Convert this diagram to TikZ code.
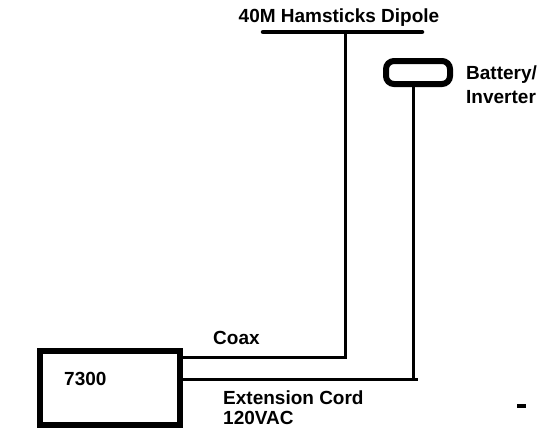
\documentclass[tikz,border=0pt]{standalone}
\usepackage{fontspec}
\setmainfont{Liberation Sans}
\usetikzlibrary{positioning, calc}

\begin{document}
\begin{tikzpicture}[
    x=1pt, y=-1pt,
    txt/.style    = {font=\fontsize{19}{23}\selectfont\bfseries, inner sep=0pt,
                     anchor=west, align=left},
    radiobox/.style = {rectangle, draw, line width=6pt, minimum width=140pt,
                     minimum height=74pt, inner sep=0pt},
    battbox/.style  = {rectangle, rounded corners=8pt, draw, line width=6pt,
                     minimum width=64pt, minimum height=23pt, inner sep=0pt},
    wire/.style   = {line width=3pt},
    ant/.style    = {line width=4.5pt, line cap=round}
  ]
  \useasboundingbox (0,0) rectangle (537,432);

  % ── Antenna ─────────────────────────────────────────────────
  \node[txt, anchor=center] (diplbl) at (339,18) {40M Hamsticks Dipole};
  \coordinate (dipL) at (263,32);
  \coordinate (dipR) at (422,32);
  \coordinate (dipC) at (345,32);
  \draw[ant] (dipL) -- (dipR);

  % ── Battery / Inverter ─────────────────────────────────────
  \node[battbox] (batt) at (418,72.5) {};
  \node[txt] (battlbl) at (466,85) {Battery/\\[1pt]Inverter};

  % ── Radio ───────────────────────────────────────────────────
  \node[radiobox] (radio) at (110,388) {};
  \node[txt] (radiolbl) at (64,379) {7300};

  % ── Coax ────────────────────────────────────────────────────
  \coordinate (coaxbend) at (345,357);
  \draw[wire] (dipC) -- (coaxbend) -- (radio.east |- coaxbend);
  \node[txt] (coaxlbl) at (213,338) {Coax};

  % ── Extension cord ──────────────────────────────────────────
  \coordinate (cordbend) at (413,379);
  \coordinate (cordend) at (418,379);
  \draw[wire] (cordbend |- batt.south) -- (cordbend);
  \draw[wire] (radio.east |- cordend) -- (cordend);
  \node[txt] (cordlbl) at (223,408) {Extension Cord\\[-3pt]120VAC};

  \node[inner sep=0pt] (dash) at (521.5,406) {\rule{9pt}{4pt}};

\end{tikzpicture}
\end{document}
